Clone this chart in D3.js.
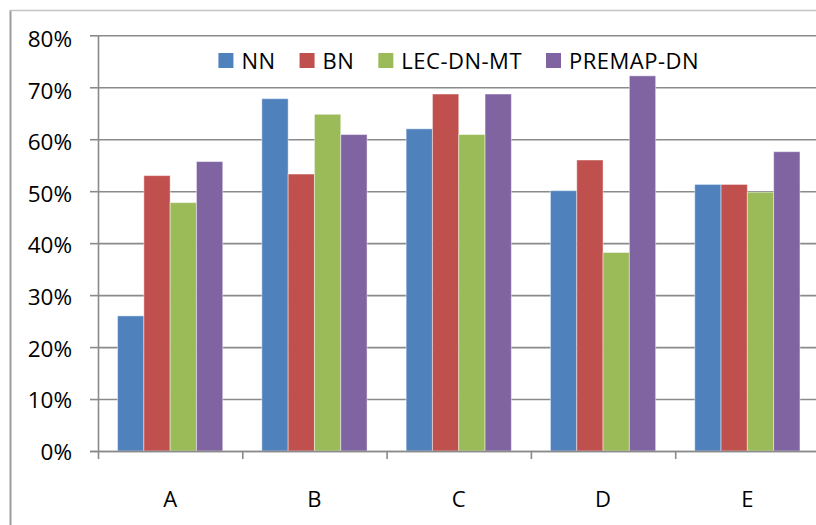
<!DOCTYPE html>
<html>
<head>
<meta charset="utf-8">
<script src="https://cdn.jsdelivr.net/npm/d3@7"></script>
<style>
  html, body { margin: 0; padding: 0; background: #fff; }
  svg { display: block; }
  text { font-family: "Open Sans", "Liberation Sans", sans-serif; fill: #000; }
</style>
</head>
<body>
<svg id="chart" width="816" height="525"></svg>
<script>
const categories = ["A", "B", "C", "D", "E"];
const seriesNames = ["NN", "BN", "LEC-DN-MT", "PREMAP-DN"];
const seriesColors = ["#4F81BD", "#C0504D", "#9BBB59", "#8064A2"];
const valuesNN     = [0.260, 0.678, 0.620, 0.501, 0.513];
const valuesBN     = [0.530, 0.533, 0.687, 0.560, 0.513];
const valuesLEC    = [0.478, 0.648, 0.609, 0.382, 0.498];
const valuesPREMAP = [0.557, 0.609, 0.687, 0.722, 0.576];
const yTicks = [0, 0.1, 0.2, 0.3, 0.4, 0.5, 0.6, 0.7, 0.8];

const seriesValues = [valuesNN, valuesBN, valuesLEC, valuesPREMAP];
const data = categories.map((c, i) => ({
  cat: c,
  vals: seriesNames.map((s, j) => ({ name: s, value: seriesValues[j][i], color: seriesColors[j] }))
}));

const svg = d3.select("#chart");
const pLeft = 98, pRight = 819.5, pTop = 35.3, pBottom = 451;
const gridColor = "#8a8a8a";

// chart border (cropped)
svg.append("line").attr("x1", 10.5).attr("x2", 10.5).attr("y1", 10).attr("y2", 525)
  .attr("stroke", "#9c9c9c").attr("stroke-width", 2);
svg.append("line").attr("x1", 10).attr("x2", 816).attr("y1", 10.5).attr("y2", 10.5)
  .attr("stroke", "#c4c4c4").attr("stroke-width", 1.5);

const y = d3.scaleLinear().domain([0, 0.8]).range([pBottom, pTop]);
const x0 = d3.scaleBand().domain(categories).range([pLeft, pRight]).padding(0);
const x1 = d3.scaleBand().domain(seriesNames).range([0, x0.bandwidth()])
  .paddingInner(0).paddingOuter(0.743);

// gridlines
const grid = svg.append("g").attr("transform", `translate(${pLeft},0)`)
  .call(d3.axisLeft(y).tickValues(yTicks).tickSize(-(pRight - pLeft)).tickFormat(""));
grid.select(".domain").remove();
grid.selectAll(".tick line").attr("stroke", gridColor).attr("stroke-width", 1.6);

// y axis
const yAxis = svg.append("g").attr("transform", `translate(${pLeft},0)`)
  .call(d3.axisLeft(y).tickValues(yTicks).tickSize(8).tickFormat(d3.format(".0%")));
yAxis.select(".domain").attr("stroke", gridColor).attr("stroke-width", 1.6)
  .attr("d", `M0.5,${pTop}V${pBottom + 0.5}`);
yAxis.selectAll(".tick line").attr("stroke", gridColor).attr("stroke-width", 1.6);
yAxis.selectAll(".tick text")
  .attr("x", -26).attr("dy", "0.32em")
  .attr("transform", d => `translate(0,${1 + d * 4})`)
  .style("font-size", "22.5px").attr("fill", "#000");

// bars
const groups = svg.append("g").selectAll("g").data(data).join("g")
  .attr("transform", d => `translate(${x0(d.cat)},0)`);
groups.selectAll("rect").data(d => d.vals).join("rect")
  .attr("x", d => x1(d.name))
  .attr("width", x1.bandwidth())
  .attr("y", d => y(d.value))
  .attr("height", d => y(0) - y(d.value))
  .attr("fill", d => d.color)
  .attr("stroke", "rgba(255,255,255,0.45)")
  .attr("stroke-width", 1);

// x axis (baseline + boundary ticks)
const xb = d3.scaleLinear().domain([0, categories.length]).range([pLeft, pRight]);
const xAxisTicks = svg.append("g").attr("transform", `translate(0,${pBottom})`)
  .call(d3.axisBottom(xb).ticks(categories.length).tickSize(8).tickFormat(""));
xAxisTicks.select(".domain").attr("stroke", gridColor).attr("stroke-width", 1.6)
  .attr("d", `M${pLeft - 8},0.5H${pRight}`);
xAxisTicks.selectAll(".tick line").attr("stroke", gridColor).attr("stroke-width", 1.6);

const xAxis = svg.append("g").attr("transform", `translate(0,${pBottom})`)
  .call(d3.axisBottom(x0).tickSize(0));
xAxis.select(".domain").remove();
xAxis.selectAll(".tick text")
  .attr("y", 56).attr("dy", 0)
  .style("font-size", "22px").attr("fill", "#000");

// legend
const legend = svg.append("g");
const items = legend.selectAll("g").data(seriesNames.map((s, i) => ({ name: s, color: seriesColors[i] })))
  .join("g");
items.append("rect").attr("y", 53).attr("width", 15).attr("height", 15).attr("fill", d => d.color);
items.append("text").attr("x", 23).attr("y", 68.5).text(d => d.name)
  .style("font-size", "22px").style("letter-spacing", "0.5px");
const widths = [];
items.each(function () { widths.push(d3.select(this).select("text").node().getComputedTextLength()); });
const total = widths.reduce((a, w) => a + 23 + w, 0) + 24 * (widths.length - 1);
let cx = (pLeft + pRight) / 2 - total / 2;
items.attr("transform", (d, i) => {
  const t = `translate(${cx},0)`;
  cx += 23 + widths[i] + 24;
  return t;
});
</script>
</body>
</html>
